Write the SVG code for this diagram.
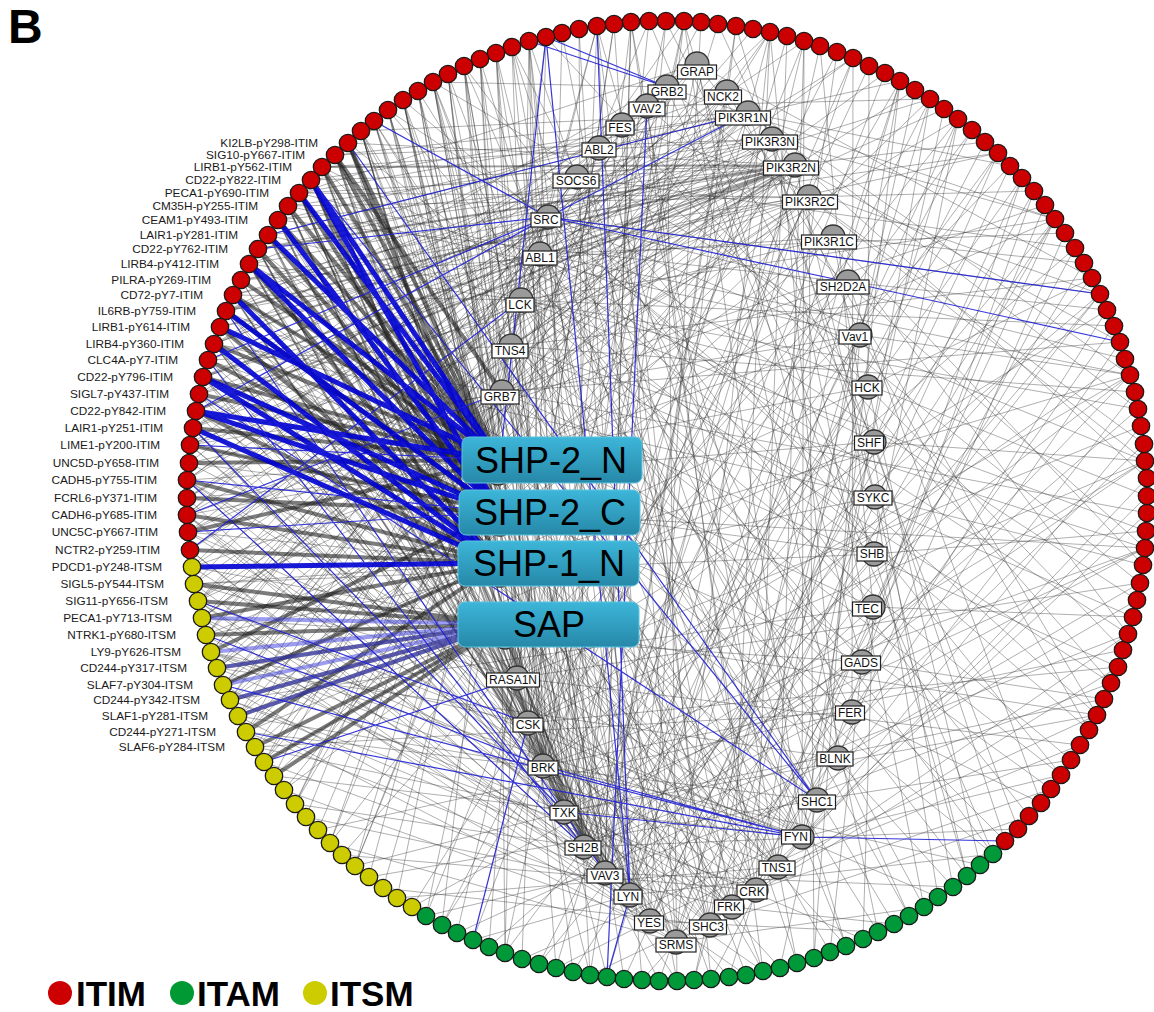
<svg xmlns="http://www.w3.org/2000/svg" width="1154" height="1012" viewBox="0 0 1154 1012">
<defs>
<linearGradient id="box" x1="0" y1="0" x2="0" y2="1"><stop offset="0" stop-color="#3db6d9"/><stop offset="1" stop-color="#2688a8"/></linearGradient>
</defs>
<style>
.eg{fill:none;stroke:#303030;stroke-opacity:.38;stroke-width:1}
.md{fill:none;stroke:#1e1e1e;stroke-opacity:.45;stroke-width:2}
.td{fill:none;stroke:#1e1e1e;stroke-opacity:.58;stroke-width:4}
.lb{fill:none;stroke:#3b3be0;stroke-opacity:.5;stroke-width:4}
.tb{fill:none;stroke:#0000d4;stroke-opacity:.9;stroke-width:5}
.bl{fill:none;stroke:#1f1fd6;stroke-opacity:.9;stroke-width:1.2}
.ri,.ga,.ys{stroke:#1a1a1a;stroke-width:1.3}
.ri{fill:#cc0000}.ga{fill:#00993a}.ys{fill:#cccc00}
.pl{font-family:"Liberation Sans",Arial,sans-serif;font-size:11.8px;fill:#1a1a1a;text-anchor:end}
.dn circle{fill:#9a9a9a;stroke:#333;stroke-width:1.3}
.dn rect{fill:#fff;stroke:#222;stroke-width:1.2}
.dn text{font-family:"Liberation Sans",Arial,sans-serif;font-size:12px;text-anchor:middle;fill:#111}
.sh circle{fill:#9a9a9a;stroke:#333;stroke-width:1.3}
.sh rect{fill:url(#box);stroke:#5ec4e0;stroke-width:1}
.sh text{font-family:"Liberation Sans",Arial,sans-serif;font-size:36px;text-anchor:middle;fill:#000}
.lg{font-family:"Liberation Sans",Arial,sans-serif;font-size:35px;font-weight:bold;fill:#000}
</style>
<rect width="1154" height="1012" fill="#fff"/>
<g id="connectors">
<path class="eg" d="M230 700L697 64M505 953L697 64M878 932L697 64M1128 634L697 64M1092 278L697 64M299 193L697 64M214 344L697 64M198 601L697 64"/>
<path class="eg" d="M211 652L667 87M355 866L667 87M677 981L667 87M993 854L667 87M1145 461L667 87M1055 219L667 87M433 82L667 87M193 428L667 87M187 515L667 87"/>
<path class="eg" d="M264 762L727 92M590 975L727 92M1097 715L727 92M1130 375L727 92M249 264L727 92M187 480L727 92M202 618L727 92"/>
<path class="eg" d="M295 804L647 106M763 971L647 106M1145 548L647 106M930 99L647 106M226 311L647 106M190 445L647 106M194 584L647 106"/>
<path class="eg" d="M246 732L748 113M426 916L748 113M1018 829L748 113M1138 409L748 113M1010 166L748 113M361 131L748 113M299 193L748 113M203 377L748 113M188 532L748 113"/>
<path class="eg" d="M330 843L622 125M711 979L622 125M1111 683L622 125M1100 294L622 125M335 155L622 125M199 394L622 125"/>
<path class="eg" d="M217 668L772 139M473 940L772 139M924 907L772 139M1147 478L772 139M1055 219L772 139M322 167L772 139M258 249L772 139M196 411L772 139M190 550L772 139"/>
<path class="eg" d="M383 888L599 148M846 946L599 148M1140 583L599 148M900 81L599 148M278 220L599 148M189 463L599 148"/>
<path class="eg" d="M202 618L795 165M284 790L795 165M556 968L795 165M967 876L795 165M1120 342L795 165M985 142L795 165M348 143L795 165M311 180L795 165M268 235L795 165M233 295L795 165M208 360L795 165M187 498L795 165M192 567L795 165"/>
<path class="eg" d="M238 716L577 177M642 980L577 177M1061 775L577 177M1075 248L577 177M214 344L577 177M211 652L577 177"/>
<path class="eg" d="M223 685L809 197M442 925L809 197M814 958L809 197M1144 444L809 197M1034 191L809 197M288 206L809 197M220 327L809 197M193 428L809 197M198 601L809 197"/>
<path class="eg" d="M206 635L548 217M306 817L548 217M522 959L548 217M797 963L548 217M1029 816L548 217M1137 600L548 217M1125 359L548 217M998 153L548 217M804 41L548 217M597 26L548 217M388 110L548 217M241 280L548 217M187 480L548 217M246 732L548 217"/>
<path class="eg" d="M255 747L833 237M607 977L833 237M953 887L833 237M1143 565L833 237M1084 263L833 237M241 280L833 237M199 394L833 237M217 668L833 237"/>
<path class="eg" d="M274 776L540 254M489 947L540 254M909 916L540 254M1089 730L540 254M1147 496L540 254M1065 233L540 254M853 58L540 254M480 59L540 254M226 311L540 254M206 635L540 254"/>
<path class="eg" d="M342 855L848 282M694 980L848 282M1041 803L848 282M1107 310L848 282M278 220L848 282M187 515L848 282M230 700L848 282"/>
<path class="eg" d="M198 601L521 300M397 898L521 300M624 979L521 300M894 924L521 300M1071 760L521 300M1146 531L521 300M1114 326L521 300M944 109L521 300M753 29L521 300M512 47L521 300M233 295L521 300M190 445L521 300"/>
<path class="eg" d="M223 685L511 346M369 877L511 346M746 975L511 346M1005 841L511 346M1133 617L511 346M1135 392L511 346M915 90L511 346M649 21L511 346M374 121L511 346M208 360L511 346"/>
<path class="eg" d="M202 618L502 392M318 830L502 392M573 972L502 392M830 952L502 392M1051 789L502 392M1147 513L502 392M1045 205L502 392M770 32L502 392M546 37L502 392M249 264L502 392M189 463L502 392"/>
<path class="eg" d="M194 584L517 678M457 933L517 678M780 968L517 678M1080 745L517 678M1141 426L517 678M958 119L517 678M718 24L517 678M418 91L517 678M268 235L517 678M188 532L517 678"/>
<path class="eg" d="M211 652L528 723M412 907L528 723M659 981L528 723M938 897L528 723M1118 667L528 723M1130 375L528 723M972 130L528 723M684 21L528 723M448 74L528 723M299 193L528 723M203 377L528 723"/>
<path class="eg" d="M238 716L543 766M442 925L543 766M729 977L543 766M980 865L543 766M1123 650L543 766M1125 359L543 766M869 66L543 766M631 22L543 766M335 155L543 766M220 327L543 766M187 515L543 766M202 618L543 766"/>
<path class="eg" d="M217 668L564 812M355 866L564 812M607 977L564 812M863 939L564 812M1104 699L564 812M1145 461L564 812M1022 178L564 812M787 36L564 812M529 41L564 812M311 180L564 812M196 411L564 812M255 747L564 812"/>
<path class="eg" d="M198 601L584 847M295 804L584 847M505 953L584 847M763 971L584 847M1018 829L584 847M1145 548L584 847M1092 278L584 847M885 73L584 847M666 21L584 847M403 100L584 847M258 249L584 847M187 480L584 847M230 700L584 847"/>
<path class="eg" d="M246 732L605 873M426 916L605 873M677 981L605 873M953 887L605 873M1111 683L605 873M1138 409L605 873M985 142L605 873M736 26L605 873M464 66L605 873M288 206L605 873M199 394L605 873M206 635L605 873"/>
<path class="eg" d="M264 762L630 895M473 940L630 895M746 975L630 895M993 854L630 895M1137 600L630 895M1100 294L630 895M820 46L630 895M579 29L630 895M348 143L630 895M214 344L630 895M190 550L630 895M194 584L630 895"/>
<path class="eg" d="M284 790L650 921M556 968L650 921M878 932L650 921M1097 715L650 921M1144 444L650 921M1010 166L650 921M701 22L650 921M433 82L650 921M241 280L650 921M187 498L650 921M223 685L650 921"/>
<path class="eg" d="M330 843L676 942M642 980L676 942M924 907L676 942M1118 667L676 942M1114 326L676 942M930 99L676 942M614 24L676 942M361 131L676 942M226 311L676 942M238 716L676 942"/>
<path class="eg" d="M383 888L710 925M694 980L710 925M1029 816L710 925M1147 513L710 925M1075 248L710 925M837 52L710 925M496 53L710 925M278 220L710 925M193 428L710 925"/>
<path class="eg" d="M306 817L732 907M590 975L732 907M894 924L732 907M1128 634L732 907M1120 342L732 907M915 90L732 907M562 33L732 907M322 167L732 907M190 445L732 907M192 567L732 907"/>
<path class="eg" d="M342 855L756 890M729 977L756 890M1051 789L756 890M1147 478L756 890M1045 205L756 890M787 36L756 890M448 74L756 890M249 264L756 890M188 532L756 890"/>
<path class="eg" d="M397 898L778 867M797 963L778 867M1080 745L778 867M1141 426L778 867M944 109L778 867M631 22L778 867M335 155L778 867M208 360L778 867M211 652L778 867"/>
<path class="eg" d="M274 776L802 837M522 959L802 837M846 946L802 837M1061 775L802 837M1147 496L802 837M1034 191L802 837M804 41L802 837M529 41L802 837M299 193L802 837M196 411L802 837M198 601L802 837"/>
<path class="eg" d="M369 877L817 800M780 968L817 800M1071 760L817 800M1135 392L817 800M900 81L817 800M597 26L817 800M374 121L817 800M220 327L817 800M246 732L817 800"/>
<path class="eg" d="M457 933L838 758M909 916L838 758M1140 583L838 758M1065 233L838 758M770 32L838 758M418 91L838 758M233 295L838 758M217 668L838 758"/>
<path class="eg" d="M318 830L852 712M711 979L852 712M1041 803L852 712M1107 310L852 712M853 58L852 712M512 47L852 712M258 249L852 712M255 747L852 712"/>
<path class="eg" d="M412 907L862 662M830 952L862 662M1104 699L862 662M1022 178L862 662M684 21L862 662M388 110L862 662M203 377L862 662M202 618L862 662"/>
<path class="eg" d="M489 947L873 607M863 939L873 607M1133 617L873 607M1084 263L873 607M820 46L873 607M464 66L873 607M226 311L873 607M230 700L873 607"/>
<path class="eg" d="M539 964L874 554M967 876L874 554M1146 531L874 554M958 119L874 554M649 21L874 554M348 143L874 554M189 463L874 554M194 584L874 554"/>
<path class="eg" d="M573 972L875 497M938 897L875 497M1143 565L875 497M1055 219L875 497M736 26L875 497M403 100L875 497M214 344L875 497M206 635L875 497"/>
<path class="eg" d="M624 979L874 442M1005 841L874 442M1145 461L874 442M998 153L874 442M666 21L874 442M322 167L874 442M187 498L874 442M238 716L874 442"/>
<path class="eg" d="M659 981L868 387M980 865L868 387M1123 650L868 387M1092 278L868 387M869 66L868 387M546 37L868 387M268 235L868 387M187 515L868 387M223 685L868 387"/>
<path class="eg" d="M539 964L860 335M814 958L860 335M1089 730L860 335M1130 375L860 335M972 130L860 335M718 24L860 335M433 82L860 335M288 206L860 335M190 445L860 335M192 567L860 335"/>
<path class="eg" d="M433 82L500 460M388 110L500 460M1055 219L500 460M770 32L500 460M993 854L500 460M505 953L500 460M295 804L500 460M233 295L500 460M208 360L500 460M187 480L500 460M198 601L500 460M217 668L500 460"/>
<path class="eg" d="M361 131L500 512M930 99L500 512M1145 548L500 512M763 971L500 512M355 866L500 512M288 206L500 512M220 327L500 512M190 445L500 512M206 635L500 512M238 716L500 512"/>
<path class="eg" d="M1130 375L500 563M846 946L500 563M426 916L500 563M274 776L500 563M335 155L500 563M258 249L500 563M199 394L500 563M188 532L500 563M194 584L500 563M223 685L500 563"/>
<path class="eg" d="M1097 715L503 624M590 975L503 624M330 843L503 624M418 91L503 624M299 193L503 624M226 311L503 624M189 463L503 624M192 567L503 624M246 732L503 624M264 762L503 624M284 790L503 624"/>
<path class="eg" d="M355 866L548 217M590 975L548 217M924 907L548 217M1097 715L548 217M1145 461L548 217M1100 294L548 217M930 99L548 217M684 21L548 217M214 344L548 217M187 515L548 217M192 567L548 217M230 700L548 217"/>
<path class="eg" d="M330 843L540 254M677 981L540 254M993 854L540 254M1128 634L540 254M1130 375L540 254M998 153L540 254M770 32L540 254M299 193L540 254M193 428L540 254M217 668L540 254"/>
<path class="eg" d="M264 762L521 300M505 953L521 300M763 971L521 300M967 876L521 300M1111 683L521 300M1138 409L521 300M1055 219L521 300M853 58L521 300M433 82L521 300M249 264L521 300M187 498L521 300"/>
<path class="eg" d="M295 804L511 346M556 968L511 346M878 932L511 346M1061 775L511 346M1145 548L511 346M1092 278L511 346M885 73L511 346M597 26L511 346M322 167L511 346M190 445L511 346"/>
<path class="eg" d="M255 747L502 392M442 925L502 392M711 979L502 392M953 887L502 392M1118 667L502 392M1120 342L502 392M958 119L502 392M701 22L502 392M433 82L502 392M214 344L502 392M188 532L502 392"/>
<path class="eg" d="M194 584L795 165M211 652L795 165M230 700L795 165M264 762L795 165M299 193L795 165M278 220L795 165M249 264L795 165M220 327L795 165M199 394L795 165M190 445L795 165M187 515L795 165M190 550L795 165"/>
<path class="eg" d="M198 601L772 139M238 716L772 139M335 155L772 139M288 206L772 139M233 295L772 139M214 344L772 139M187 480L772 139M206 635L748 113M223 685L748 113M311 180L748 113M268 235L748 113M226 311L748 113M193 428L748 113M187 498L748 113"/>
<path class="eg" d="M202 618L809 197M246 732L809 197M299 193L809 197M241 280L809 197M203 377L809 197M188 532L809 197"/>
<path class="eg" d="M1130 375L564 812M1055 219L564 812M930 99L564 812M770 32L564 812M597 26L564 812M433 82L564 812M361 131L564 812M299 193L564 812M249 264L564 812M1097 715L564 812M1145 548L564 812"/>
<path class="eg" d="M1145 461L584 847M998 153L584 847M853 58L584 847M684 21L584 847M512 47L584 847M433 82L584 847M348 143L584 847M278 220L584 847M214 344L584 847M1128 634L584 847"/>
<path class="eg" d="M1100 294L605 873M958 119L605 873M804 41L605 873M631 22L605 873M464 66L605 873M374 121L605 873M311 180L605 873M241 280L605 873M203 377L605 873M187 515L605 873"/>
<path class="eg" d="M1130 375L630 895M1034 191L630 895M900 81L630 895M736 26L630 895M529 41L630 895M388 110L630 895M299 193L630 895M233 295L630 895M193 428L630 895"/>
<path class="eg" d="M1145 548L543 766M1100 294L543 766M998 153L543 766M853 58L543 766M684 21L543 766M496 53L543 766M403 100L543 766M288 206L543 766M208 360L543 766M187 480L543 766"/>
<path class="eg" d="M1145 461L528 723M1075 248L528 723M900 81L528 723M804 41L528 723M546 37L528 723M361 131L528 723M258 249L528 723M190 445L528 723"/>
<path class="eg" d="M1140 583L517 678M1107 310L517 678M1010 166L517 678M837 52L517 678M614 24L517 678M480 59L517 678M322 167L517 678M214 344L517 678"/>
<path class="eg" d="M1055 219L650 921M900 81L650 921M597 26L650 921M403 100L650 921M299 193L650 921M214 344L650 921M190 550L650 921M198 601L650 921"/>
<path class="eg" d="M1022 178L676 942M770 32L676 942M512 47L676 942M322 167L676 942M249 264L676 942M193 428L676 942M202 618L676 942"/>
<path class="eg" d="M930 99L802 837M684 21L802 837M464 66L802 837M361 131L802 837M249 264L802 837M214 344L802 837M187 480L802 837M211 652L802 837"/>
<path class="eg" d="M958 119L710 925M597 26L710 925M403 100L710 925M335 155L710 925M214 344L710 925M187 515L710 925M1055 219L732 907M770 32L732 907M433 82L732 907M278 220L732 907M203 377L732 907M211 652L732 907"/>
<path class="eg" d="M900 81L756 890M631 22L756 890M361 131L756 890M278 220L756 890M199 394L756 890M230 700L756 890M804 41L778 867M512 47L778 867M299 193L778 867M226 311L778 867M187 480L778 867"/>
<path class="eg" d="M529 41L517 678M529 41L543 766M529 41L605 873M496 53L528 723M496 53L564 812M496 53L630 895M480 59L500 460M480 59L584 847M480 59L543 766M464 66L500 512M464 66L564 812M464 66L528 723M448 74L500 563M448 74L605 873M448 74L517 678M418 91L500 460M418 91L630 895M418 91L584 847M403 100L500 512M403 100L543 766M403 100L564 812M388 110L500 563M388 110L605 873M388 110L528 723M374 121L500 460M374 121L584 847M374 121L630 895M361 131L503 624M361 131L564 812M361 131L543 766M666 21L528 723M649 21L564 812M631 22L605 873M614 24L517 678M579 29L584 847M562 33L543 766"/>
<path class="md" d="M335 155L584 847M311 180L605 873M288 206L564 812M268 235L584 847M249 264L605 873M233 295L630 895M299 193L584 847M278 220L605 873M322 167L564 812M258 249L543 766M322 167L795 165M258 249L795 165M226 311L795 165M203 377L795 165M196 411L795 165"/>
<path class="td" d="M348 143L500 460M335 155L500 460M322 167L500 460M288 206L500 460M241 280L500 460M199 394L500 460M189 463L500 460M188 532L500 460M278 220L500 460M233 295L500 460M214 344L500 460M203 377L500 460M193 428L500 460"/>
<path class="td" d="M348 143L500 512M258 249L500 512M208 360L500 512M190 445L500 512M187 498L500 512M211 652L500 512M299 193L500 512M268 235L500 512M226 311L500 512"/>
<path class="td" d="M187 480L500 563M187 515L500 563M190 550L500 563M202 618L500 563M223 685L500 563M246 732L500 563M311 180L500 563M249 264L500 563M220 327L500 563M196 411L500 563"/>
<path class="td" d="M194 584L503 624M198 601L503 624M206 635L503 624M217 668L503 624M230 700L503 624M238 716L503 624M255 747L503 624M264 762L503 624M274 776L503 624M335 155L502 392"/>
<path class="lb" d="M202 618L503 624M211 652L503 624M217 668L503 624M223 685L503 624M230 700L503 624M238 716L503 624"/>
<path class="tb" d="M311 180L500 460M311 180L500 512M299 193L500 460M278 220L500 512M268 235L500 460M249 264L500 460M249 264L500 512M233 295L500 563M226 311L500 512M220 327L500 460M214 344L500 563M203 377L500 512M203 377L500 563M196 411L500 460M196 411L500 512M193 428L500 563M192 567L500 563"/>
<path class="bl" d="M546 37L500 460M546 37L630 895M597 26L630 895M607 977L647 106M607 977L630 895M529 41L667 87M546 37L667 87M548 217L748 113M268 235L748 113M548 217L1100 294M548 217L848 282M848 282L1120 342M548 217L208 360M548 217L196 411M548 217L258 249M548 217L374 121M223 685L802 837M246 732L802 837M543 766L802 837M564 812L802 837M802 837L1005 841M348 143L817 800M199 394L817 800M311 180L817 800M528 723L473 940M264 762L517 678M208 360L584 847M193 428L564 812M187 480L584 847M226 311L605 873M187 515L502 392M190 550L521 300M198 601L528 723M206 635L543 766M190 445L500 460M187 480L500 512M188 532L500 512"/>
</g>
<g id="ring">
<g id="p0"><circle class="ys" cx="192" cy="567" r="8.7"/><text class="pl" x="162" y="571">PDCD1-pY248-ITSM</text></g>
<g id="p1"><circle class="ys" cx="194" cy="584" r="8.7"/><text class="pl" x="164" y="588">SIGL5-pY544-ITSM</text></g>
<g id="p2"><circle class="ys" cx="198" cy="601" r="8.7"/><text class="pl" x="168" y="605">SIG11-pY656-ITSM</text></g>
<g id="p3"><circle class="ys" cx="202" cy="618" r="8.7"/><text class="pl" x="172" y="622">PECA1-pY713-ITSM</text></g>
<g id="p4"><circle class="ys" cx="206" cy="635" r="8.7"/><text class="pl" x="176" y="639">NTRK1-pY680-ITSM</text></g>
<g id="p5"><circle class="ys" cx="211" cy="652" r="8.7"/><text class="pl" x="181" y="656">LY9-pY626-ITSM</text></g>
<g id="p6"><circle class="ys" cx="217" cy="668" r="8.7"/><text class="pl" x="187" y="672">CD244-pY317-ITSM</text></g>
<g id="p7"><circle class="ys" cx="223" cy="685" r="8.7"/><text class="pl" x="193" y="689">SLAF7-pY304-ITSM</text></g>
<g id="p8"><circle class="ys" cx="230" cy="700" r="8.7"/><text class="pl" x="200" y="704">CD244-pY342-ITSM</text></g>
<g id="p9"><circle class="ys" cx="238" cy="716" r="8.7"/><text class="pl" x="208" y="720">SLAF1-pY281-ITSM</text></g>
<g id="p10"><circle class="ys" cx="246" cy="732" r="8.7"/><text class="pl" x="216" y="736">CD244-pY271-ITSM</text></g>
<g id="p11"><circle class="ys" cx="255" cy="747" r="8.7"/><text class="pl" x="225" y="751">SLAF6-pY284-ITSM</text></g>
<g id="p12"><circle class="ys" cx="264" cy="762" r="8.7"/></g>
<g id="p13"><circle class="ys" cx="274" cy="776" r="8.7"/></g>
<g id="p14"><circle class="ys" cx="284" cy="790" r="8.7"/></g>
<g id="p15"><circle class="ys" cx="295" cy="804" r="8.7"/></g>
<g id="p16"><circle class="ys" cx="306" cy="817" r="8.7"/></g>
<g id="p17"><circle class="ys" cx="318" cy="830" r="8.7"/></g>
<g id="p18"><circle class="ys" cx="330" cy="843" r="8.7"/></g>
<g id="p19"><circle class="ys" cx="342" cy="855" r="8.7"/></g>
<g id="p20"><circle class="ys" cx="355" cy="866" r="8.7"/></g>
<g id="p21"><circle class="ys" cx="369" cy="877" r="8.7"/></g>
<g id="p22"><circle class="ys" cx="383" cy="888" r="8.7"/></g>
<g id="p23"><circle class="ys" cx="397" cy="898" r="8.7"/></g>
<g id="p24"><circle class="ys" cx="412" cy="907" r="8.7"/></g>
<g id="p25"><circle class="ga" cx="426" cy="916" r="8.7"/></g>
<g id="p26"><circle class="ga" cx="442" cy="925" r="8.7"/></g>
<g id="p27"><circle class="ga" cx="457" cy="933" r="8.7"/></g>
<g id="p28"><circle class="ga" cx="473" cy="940" r="8.7"/></g>
<g id="p29"><circle class="ga" cx="489" cy="947" r="8.7"/></g>
<g id="p30"><circle class="ga" cx="505" cy="953" r="8.7"/></g>
<g id="p31"><circle class="ga" cx="522" cy="959" r="8.7"/></g>
<g id="p32"><circle class="ga" cx="539" cy="964" r="8.7"/></g>
<g id="p33"><circle class="ga" cx="556" cy="968" r="8.7"/></g>
<g id="p34"><circle class="ga" cx="573" cy="972" r="8.7"/></g>
<g id="p35"><circle class="ga" cx="590" cy="975" r="8.7"/></g>
<g id="p36"><circle class="ga" cx="607" cy="977" r="8.7"/></g>
<g id="p37"><circle class="ga" cx="624" cy="979" r="8.7"/></g>
<g id="p38"><circle class="ga" cx="642" cy="980" r="8.7"/></g>
<g id="p39"><circle class="ga" cx="659" cy="981" r="8.7"/></g>
<g id="p40"><circle class="ga" cx="677" cy="981" r="8.7"/></g>
<g id="p41"><circle class="ga" cx="694" cy="980" r="8.7"/></g>
<g id="p42"><circle class="ga" cx="711" cy="979" r="8.7"/></g>
<g id="p43"><circle class="ga" cx="729" cy="977" r="8.7"/></g>
<g id="p44"><circle class="ga" cx="746" cy="975" r="8.7"/></g>
<g id="p45"><circle class="ga" cx="763" cy="971" r="8.7"/></g>
<g id="p46"><circle class="ga" cx="780" cy="968" r="8.7"/></g>
<g id="p47"><circle class="ga" cx="797" cy="963" r="8.7"/></g>
<g id="p48"><circle class="ga" cx="814" cy="958" r="8.7"/></g>
<g id="p49"><circle class="ga" cx="830" cy="952" r="8.7"/></g>
<g id="p50"><circle class="ga" cx="846" cy="946" r="8.7"/></g>
<g id="p51"><circle class="ga" cx="863" cy="939" r="8.7"/></g>
<g id="p52"><circle class="ga" cx="878" cy="932" r="8.7"/></g>
<g id="p53"><circle class="ga" cx="894" cy="924" r="8.7"/></g>
<g id="p54"><circle class="ga" cx="909" cy="916" r="8.7"/></g>
<g id="p55"><circle class="ga" cx="924" cy="907" r="8.7"/></g>
<g id="p56"><circle class="ga" cx="938" cy="897" r="8.7"/></g>
<g id="p57"><circle class="ga" cx="953" cy="887" r="8.7"/></g>
<g id="p58"><circle class="ga" cx="967" cy="876" r="8.7"/></g>
<g id="p59"><circle class="ga" cx="980" cy="865" r="8.7"/></g>
<g id="p60"><circle class="ga" cx="993" cy="854" r="8.7"/></g>
<g id="p61"><circle class="ri" cx="1005" cy="841" r="8.7"/></g>
<g id="p62"><circle class="ri" cx="1018" cy="829" r="8.7"/></g>
<g id="p63"><circle class="ri" cx="1029" cy="816" r="8.7"/></g>
<g id="p64"><circle class="ri" cx="1041" cy="803" r="8.7"/></g>
<g id="p65"><circle class="ri" cx="1051" cy="789" r="8.7"/></g>
<g id="p66"><circle class="ri" cx="1061" cy="775" r="8.7"/></g>
<g id="p67"><circle class="ri" cx="1071" cy="760" r="8.7"/></g>
<g id="p68"><circle class="ri" cx="1080" cy="745" r="8.7"/></g>
<g id="p69"><circle class="ri" cx="1089" cy="730" r="8.7"/></g>
<g id="p70"><circle class="ri" cx="1097" cy="715" r="8.7"/></g>
<g id="p71"><circle class="ri" cx="1104" cy="699" r="8.7"/></g>
<g id="p72"><circle class="ri" cx="1111" cy="683" r="8.7"/></g>
<g id="p73"><circle class="ri" cx="1118" cy="667" r="8.7"/></g>
<g id="p74"><circle class="ri" cx="1123" cy="650" r="8.7"/></g>
<g id="p75"><circle class="ri" cx="1128" cy="634" r="8.7"/></g>
<g id="p76"><circle class="ri" cx="1133" cy="617" r="8.7"/></g>
<g id="p77"><circle class="ri" cx="1137" cy="600" r="8.7"/></g>
<g id="p78"><circle class="ri" cx="1140" cy="583" r="8.7"/></g>
<g id="p79"><circle class="ri" cx="1143" cy="565" r="8.7"/></g>
<g id="p80"><circle class="ri" cx="1145" cy="548" r="8.7"/></g>
<g id="p81"><circle class="ri" cx="1146" cy="531" r="8.7"/></g>
<g id="p82"><circle class="ri" cx="1147" cy="513" r="8.7"/></g>
<g id="p83"><circle class="ri" cx="1147" cy="496" r="8.7"/></g>
<g id="p84"><circle class="ri" cx="1147" cy="478" r="8.7"/></g>
<g id="p85"><circle class="ri" cx="1145" cy="461" r="8.7"/></g>
<g id="p86"><circle class="ri" cx="1144" cy="444" r="8.7"/></g>
<g id="p87"><circle class="ri" cx="1141" cy="426" r="8.7"/></g>
<g id="p88"><circle class="ri" cx="1138" cy="409" r="8.7"/></g>
<g id="p89"><circle class="ri" cx="1135" cy="392" r="8.7"/></g>
<g id="p90"><circle class="ri" cx="1130" cy="375" r="8.7"/></g>
<g id="p91"><circle class="ri" cx="1125" cy="359" r="8.7"/></g>
<g id="p92"><circle class="ri" cx="1120" cy="342" r="8.7"/></g>
<g id="p93"><circle class="ri" cx="1114" cy="326" r="8.7"/></g>
<g id="p94"><circle class="ri" cx="1107" cy="310" r="8.7"/></g>
<g id="p95"><circle class="ri" cx="1100" cy="294" r="8.7"/></g>
<g id="p96"><circle class="ri" cx="1092" cy="278" r="8.7"/></g>
<g id="p97"><circle class="ri" cx="1084" cy="263" r="8.7"/></g>
<g id="p98"><circle class="ri" cx="1075" cy="248" r="8.7"/></g>
<g id="p99"><circle class="ri" cx="1065" cy="233" r="8.7"/></g>
<g id="p100"><circle class="ri" cx="1055" cy="219" r="8.7"/></g>
<g id="p101"><circle class="ri" cx="1045" cy="205" r="8.7"/></g>
<g id="p102"><circle class="ri" cx="1034" cy="191" r="8.7"/></g>
<g id="p103"><circle class="ri" cx="1022" cy="178" r="8.7"/></g>
<g id="p104"><circle class="ri" cx="1010" cy="166" r="8.7"/></g>
<g id="p105"><circle class="ri" cx="998" cy="153" r="8.7"/></g>
<g id="p106"><circle class="ri" cx="985" cy="142" r="8.7"/></g>
<g id="p107"><circle class="ri" cx="972" cy="130" r="8.7"/></g>
<g id="p108"><circle class="ri" cx="958" cy="119" r="8.7"/></g>
<g id="p109"><circle class="ri" cx="944" cy="109" r="8.7"/></g>
<g id="p110"><circle class="ri" cx="930" cy="99" r="8.7"/></g>
<g id="p111"><circle class="ri" cx="915" cy="90" r="8.7"/></g>
<g id="p112"><circle class="ri" cx="900" cy="81" r="8.7"/></g>
<g id="p113"><circle class="ri" cx="885" cy="73" r="8.7"/></g>
<g id="p114"><circle class="ri" cx="869" cy="66" r="8.7"/></g>
<g id="p115"><circle class="ri" cx="853" cy="58" r="8.7"/></g>
<g id="p116"><circle class="ri" cx="837" cy="52" r="8.7"/></g>
<g id="p117"><circle class="ri" cx="820" cy="46" r="8.7"/></g>
<g id="p118"><circle class="ri" cx="804" cy="41" r="8.7"/></g>
<g id="p119"><circle class="ri" cx="787" cy="36" r="8.7"/></g>
<g id="p120"><circle class="ri" cx="770" cy="32" r="8.7"/></g>
<g id="p121"><circle class="ri" cx="753" cy="29" r="8.7"/></g>
<g id="p122"><circle class="ri" cx="736" cy="26" r="8.7"/></g>
<g id="p123"><circle class="ri" cx="718" cy="24" r="8.7"/></g>
<g id="p124"><circle class="ri" cx="701" cy="22" r="8.7"/></g>
<g id="p125"><circle class="ri" cx="684" cy="21" r="8.7"/></g>
<g id="p126"><circle class="ri" cx="666" cy="21" r="8.7"/></g>
<g id="p127"><circle class="ri" cx="649" cy="21" r="8.7"/></g>
<g id="p128"><circle class="ri" cx="631" cy="22" r="8.7"/></g>
<g id="p129"><circle class="ri" cx="614" cy="24" r="8.7"/></g>
<g id="p130"><circle class="ri" cx="597" cy="26" r="8.7"/></g>
<g id="p131"><circle class="ri" cx="579" cy="29" r="8.7"/></g>
<g id="p132"><circle class="ri" cx="562" cy="33" r="8.7"/></g>
<g id="p133"><circle class="ri" cx="546" cy="37" r="8.7"/></g>
<g id="p134"><circle class="ri" cx="529" cy="41" r="8.7"/></g>
<g id="p135"><circle class="ri" cx="512" cy="47" r="8.7"/></g>
<g id="p136"><circle class="ri" cx="496" cy="53" r="8.7"/></g>
<g id="p137"><circle class="ri" cx="480" cy="59" r="8.7"/></g>
<g id="p138"><circle class="ri" cx="464" cy="66" r="8.7"/></g>
<g id="p139"><circle class="ri" cx="448" cy="74" r="8.7"/></g>
<g id="p140"><circle class="ri" cx="433" cy="82" r="8.7"/></g>
<g id="p141"><circle class="ri" cx="418" cy="91" r="8.7"/></g>
<g id="p142"><circle class="ri" cx="403" cy="100" r="8.7"/></g>
<g id="p143"><circle class="ri" cx="388" cy="110" r="8.7"/></g>
<g id="p144"><circle class="ri" cx="374" cy="121" r="8.7"/></g>
<g id="p145"><circle class="ri" cx="361" cy="131" r="8.7"/></g>
<g id="p146"><circle class="ri" cx="348" cy="143" r="8.7"/><text class="pl" x="318" y="147">KI2LB-pY298-ITIM</text></g>
<g id="p147"><circle class="ri" cx="335" cy="155" r="8.7"/><text class="pl" x="305" y="159">SIG10-pY667-ITIM</text></g>
<g id="p148"><circle class="ri" cx="322" cy="167" r="8.7"/><text class="pl" x="292" y="171">LIRB1-pY562-ITIM</text></g>
<g id="p149"><circle class="ri" cx="311" cy="180" r="8.7"/><text class="pl" x="281" y="184">CD22-pY822-ITIM</text></g>
<g id="p150"><circle class="ri" cx="299" cy="193" r="8.7"/><text class="pl" x="269" y="197">PECA1-pY690-ITIM</text></g>
<g id="p151"><circle class="ri" cx="288" cy="206" r="8.7"/><text class="pl" x="258" y="210">CM35H-pY255-ITIM</text></g>
<g id="p152"><circle class="ri" cx="278" cy="220" r="8.7"/><text class="pl" x="248" y="224">CEAM1-pY493-ITIM</text></g>
<g id="p153"><circle class="ri" cx="268" cy="235" r="8.7"/><text class="pl" x="238" y="239">LAIR1-pY281-ITIM</text></g>
<g id="p154"><circle class="ri" cx="258" cy="249" r="8.7"/><text class="pl" x="228" y="253">CD22-pY762-ITIM</text></g>
<g id="p155"><circle class="ri" cx="249" cy="264" r="8.7"/><text class="pl" x="219" y="268">LIRB4-pY412-ITIM</text></g>
<g id="p156"><circle class="ri" cx="241" cy="280" r="8.7"/><text class="pl" x="211" y="284">PILRA-pY269-ITIM</text></g>
<g id="p157"><circle class="ri" cx="233" cy="295" r="8.7"/><text class="pl" x="203" y="299">CD72-pY7-ITIM</text></g>
<g id="p158"><circle class="ri" cx="226" cy="311" r="8.7"/><text class="pl" x="196" y="315">IL6RB-pY759-ITIM</text></g>
<g id="p159"><circle class="ri" cx="220" cy="327" r="8.7"/><text class="pl" x="190" y="331">LIRB1-pY614-ITIM</text></g>
<g id="p160"><circle class="ri" cx="214" cy="344" r="8.7"/><text class="pl" x="184" y="348">LIRB4-pY360-ITIM</text></g>
<g id="p161"><circle class="ri" cx="208" cy="360" r="8.7"/><text class="pl" x="178" y="364">CLC4A-pY7-ITIM</text></g>
<g id="p162"><circle class="ri" cx="203" cy="377" r="8.7"/><text class="pl" x="173" y="381">CD22-pY796-ITIM</text></g>
<g id="p163"><circle class="ri" cx="199" cy="394" r="8.7"/><text class="pl" x="169" y="398">SIGL7-pY437-ITIM</text></g>
<g id="p164"><circle class="ri" cx="196" cy="411" r="8.7"/><text class="pl" x="166" y="415">CD22-pY842-ITIM</text></g>
<g id="p165"><circle class="ri" cx="193" cy="428" r="8.7"/><text class="pl" x="163" y="432">LAIR1-pY251-ITIM</text></g>
<g id="p166"><circle class="ri" cx="190" cy="445" r="8.7"/><text class="pl" x="160" y="449">LIME1-pY200-ITIM</text></g>
<g id="p167"><circle class="ri" cx="189" cy="463" r="8.7"/><text class="pl" x="159" y="467">UNC5D-pY658-ITIM</text></g>
<g id="p168"><circle class="ri" cx="187" cy="480" r="8.7"/><text class="pl" x="157" y="484">CADH5-pY755-ITIM</text></g>
<g id="p169"><circle class="ri" cx="187" cy="498" r="8.7"/><text class="pl" x="157" y="502">FCRL6-pY371-ITIM</text></g>
<g id="p170"><circle class="ri" cx="187" cy="515" r="8.7"/><text class="pl" x="157" y="519">CADH6-pY685-ITIM</text></g>
<g id="p171"><circle class="ri" cx="188" cy="532" r="8.7"/><text class="pl" x="158" y="536">UNC5C-pY667-ITIM</text></g>
<g id="p172"><circle class="ri" cx="190" cy="550" r="8.7"/><text class="pl" x="160" y="554">NCTR2-pY259-ITIM</text></g>
</g>
<g id="domains">
<g id="GRAP" class="dn"><circle cx="697" cy="64" r="12"/><rect x="677.5" y="65" width="39" height="14"/><text x="697" y="76.3">GRAP</text></g>
<g id="NCK2" class="dn"><circle cx="727" cy="92" r="12"/><rect x="704.5" y="90" width="37" height="14"/><text x="723" y="101.3">NCK2</text></g>
<g id="GRB2" class="dn"><circle cx="667" cy="87" r="12"/><rect x="648" y="85" width="38" height="14"/><text x="667" y="96.3">GRB2</text></g>
<g id="PIK3R1N" class="dn"><circle cx="748" cy="113" r="12"/><rect x="715.5" y="111" width="55" height="14"/><text x="743" y="122.3">PIK3R1N</text></g>
<g id="VAV2" class="dn"><circle cx="647" cy="106" r="12"/><rect x="629" y="102" width="36" height="14"/><text x="647" y="113.3">VAV2</text></g>
<g id="FES" class="dn"><circle cx="622" cy="125" r="12"/><rect x="606" y="121" width="28" height="14"/><text x="620" y="132.3">FES</text></g>
<g id="PIK3R3N" class="dn"><circle cx="772" cy="139" r="12"/><rect x="742.5" y="135" width="55" height="14"/><text x="770" y="146.3">PIK3R3N</text></g>
<g id="ABL2" class="dn"><circle cx="599" cy="148" r="12"/><rect x="582" y="143" width="34" height="14"/><text x="599" y="154.3">ABL2</text></g>
<g id="PIK3R2N" class="dn"><circle cx="795" cy="165" r="12"/><rect x="763.5" y="161" width="55" height="14"/><text x="791" y="172.3">PIK3R2N</text></g>
<g id="SOCS6" class="dn"><circle cx="577" cy="177" r="12"/><rect x="553" y="174" width="46" height="14"/><text x="576" y="185.3">SOCS6</text></g>
<g id="PIK3R2C" class="dn"><circle cx="809" cy="197" r="12"/><rect x="782.5" y="195" width="55" height="14"/><text x="810" y="206.3">PIK3R2C</text></g>
<g id="SRC" class="dn"><circle cx="548" cy="217" r="12"/><rect x="531" y="213" width="30" height="14"/><text x="546" y="224.3">SRC</text></g>
<g id="PIK3R1C" class="dn"><circle cx="833" cy="237" r="12"/><rect x="801.5" y="235" width="55" height="14"/><text x="829" y="246.3">PIK3R1C</text></g>
<g id="ABL1" class="dn"><circle cx="540" cy="254" r="12"/><rect x="523" y="251" width="34" height="14"/><text x="540" y="262.3">ABL1</text></g>
<g id="SH2D2A" class="dn"><circle cx="848" cy="282" r="12"/><rect x="817" y="280" width="52" height="14"/><text x="843" y="291.3">SH2D2A</text></g>
<g id="LCK" class="dn"><circle cx="521" cy="300" r="12"/><rect x="506" y="298" width="28" height="14"/><text x="520" y="309.3">LCK</text></g>
<g id="TNS4" class="dn"><circle cx="511" cy="346" r="12"/><rect x="492" y="344" width="36" height="14"/><text x="510" y="355.3">TNS4</text></g>
<g id="GRB7" class="dn"><circle cx="502" cy="392" r="12"/><rect x="481" y="390" width="38" height="14"/><text x="500" y="401.3">GRB7</text></g>
<g id="Vav1" class="dn"><circle cx="860" cy="335" r="12"/><rect x="839" y="330" width="32" height="14"/><text x="855" y="341.3">Vav1</text></g>
<g id="HCK" class="dn"><circle cx="868" cy="387" r="12"/><rect x="852" y="381" width="30" height="14"/><text x="867" y="392.3">HCK</text></g>
<g id="SHF" class="dn"><circle cx="874" cy="442" r="12"/><rect x="854.5" y="436" width="29" height="14"/><text x="869" y="447.3">SHF</text></g>
<g id="SYKC" class="dn"><circle cx="875" cy="497" r="12"/><rect x="854" y="491" width="38" height="14"/><text x="873" y="502.3">SYKC</text></g>
<g id="SHB" class="dn"><circle cx="874" cy="554" r="12"/><rect x="857" y="547" width="30" height="14"/><text x="872" y="558.3">SHB</text></g>
<g id="TEC" class="dn"><circle cx="873" cy="607" r="12"/><rect x="852.5" y="602" width="29" height="14"/><text x="867" y="613.3">TEC</text></g>
<g id="GADS" class="dn"><circle cx="862" cy="662" r="12"/><rect x="841.5" y="656" width="39" height="14"/><text x="861" y="667.3">GADS</text></g>
<g id="FER" class="dn"><circle cx="852" cy="712" r="12"/><rect x="835.5" y="706" width="29" height="14"/><text x="850" y="717.3">FER</text></g>
<g id="BLNK" class="dn"><circle cx="838" cy="758" r="12"/><rect x="817" y="752" width="36" height="14"/><text x="835" y="763.3">BLNK</text></g>
<g id="SHC1" class="dn"><circle cx="817" cy="800" r="12"/><rect x="798.5" y="795" width="37" height="14"/><text x="817" y="806.3">SHC1</text></g>
<g id="FYN" class="dn"><circle cx="802" cy="837" r="12"/><rect x="781.5" y="830" width="29" height="14"/><text x="796" y="841.3">FYN</text></g>
<g id="TNS1" class="dn"><circle cx="778" cy="867" r="12"/><rect x="759" y="861" width="36" height="14"/><text x="777" y="872.3">TNS1</text></g>
<g id="CRK" class="dn"><circle cx="756" cy="890" r="12"/><rect x="737" y="885" width="30" height="14"/><text x="752" y="896.3">CRK</text></g>
<g id="FRK" class="dn"><circle cx="732" cy="907" r="12"/><rect x="714.5" y="900" width="29" height="14"/><text x="729" y="911.3">FRK</text></g>
<g id="SHC3" class="dn"><circle cx="710" cy="925" r="12"/><rect x="689.5" y="920" width="37" height="14"/><text x="708" y="931.3">SHC3</text></g>
<g id="SRMS" class="dn"><circle cx="676" cy="942" r="12"/><rect x="656" y="938" width="40" height="14"/><text x="676" y="949.3">SRMS</text></g>
<g id="YES" class="dn"><circle cx="650" cy="921" r="12"/><rect x="634.5" y="916" width="29" height="14"/><text x="649" y="927.3">YES</text></g>
<g id="LYN" class="dn"><circle cx="630" cy="895" r="12"/><rect x="614" y="890" width="28" height="14"/><text x="628" y="901.3">LYN</text></g>
<g id="VAV3" class="dn"><circle cx="605" cy="873" r="12"/><rect x="587" y="869" width="36" height="14"/><text x="605" y="880.3">VAV3</text></g>
<g id="SH2B" class="dn"><circle cx="584" cy="847" r="12"/><rect x="565" y="841" width="36" height="14"/><text x="583" y="852.3">SH2B</text></g>
<g id="TXK" class="dn"><circle cx="564" cy="812" r="12"/><rect x="550" y="806" width="28" height="14"/><text x="564" y="817.3">TXK</text></g>
<g id="BRK" class="dn"><circle cx="543" cy="766" r="12"/><rect x="528" y="761" width="30" height="14"/><text x="543" y="772.3">BRK</text></g>
<g id="CSK" class="dn"><circle cx="528" cy="723" r="12"/><rect x="513" y="718" width="30" height="14"/><text x="528" y="729.3">CSK</text></g>
<g id="RASA1N" class="dn"><circle cx="517" cy="678" r="12"/><rect x="486.5" y="673" width="53" height="14"/><text x="513" y="684.3">RASA1N</text></g>
<g id="SHP-2_N" class="sh"><circle cx="498" cy="473" r="12"/><rect x="462" y="437" width="180" height="46" rx="7"/><text x="551" y="473">SHP-2_N</text></g>
<g id="SHP-2_C" class="sh"><circle cx="500" cy="524" r="12"/><rect x="459" y="490" width="181" height="45" rx="7"/><text x="550" y="525">SHP-2_C</text></g>
<g id="SHP-1_N" class="sh"><circle cx="500" cy="575" r="12"/><rect x="458" y="541" width="181" height="45" rx="7"/><text x="549" y="576">SHP-1_N</text></g>
<g id="SAP" class="sh"><circle cx="505" cy="637" r="12"/><rect x="458" y="602" width="181" height="45" rx="7"/><text x="549" y="637">SAP</text></g>
</g>
<g id="legend">
<text class="lg" x="8" y="43" style="font-size:48px">B</text>
<circle cx="60" cy="993" r="12" fill="#cc0000"/><text class="lg" x="76" y="1006">ITIM</text>
<circle cx="182" cy="993" r="12" fill="#009933"/><text class="lg" x="197" y="1006">ITAM</text>
<circle cx="315" cy="993" r="12" fill="#cccc00"/><text class="lg" x="330" y="1006">ITSM</text>
</g>
</svg>
